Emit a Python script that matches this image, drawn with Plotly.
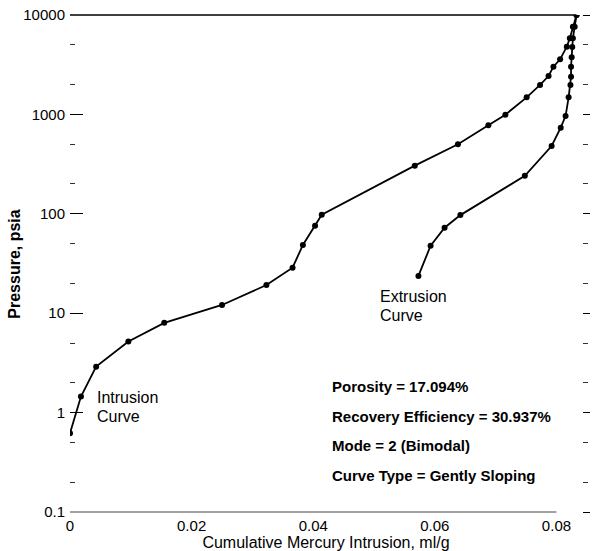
import plotly.graph_objects as go

# Mercury injection capillary pressure data
intrusion_volume = [0.0, 0.0018, 0.0043, 0.0096, 0.0155, 0.0250, 0.0323, 0.0366, 0.0383,
                    0.0403, 0.0414, 0.0567, 0.0638, 0.0688, 0.0716, 0.0751, 0.0773, 0.0787,
                    0.0795, 0.0806, 0.0817, 0.0822, 0.0827, 0.0833]
intrusion_pressure = [0.62, 1.45, 2.9, 5.2, 8.0, 12.1, 19.2, 28.7, 48.6,
                      76, 98, 305, 500, 776, 994, 1485, 1977, 2433,
                      3020, 3580, 4800, 5830, 7620, 10000]

extrusion_volume = [0.0573, 0.0593, 0.0616, 0.0642, 0.0748, 0.0792, 0.0807, 0.0815, 0.0820,
                    0.0823, 0.0824, 0.0824, 0.0825, 0.0826, 0.0827, 0.0830, 0.0833]
extrusion_pressure = [23.7, 47.8, 72.5, 97, 241, 481, 735, 963, 1485,
                      1977, 2395, 3020, 3750, 4770, 5830, 7620, 10000]

x_ticks = [0, 0.02, 0.04, 0.06, 0.08]
x_tick_labels = ["0", "0.02", "0.04", "0.06", "0.08"]
y_ticks = [0.1, 1, 10, 100, 1000, 10000]
y_tick_labels = ["0.1", "1", "10", "100", "1000", "10000"]

stats_lines = ["Porosity = 17.094%", "Recovery Efficiency = 30.937%",
               "Mode = 2 (Bimodal)", "Curve Type = Gently Sloping"]

FONT = "Liberation Sans, Arial, Helvetica, sans-serif"
X_MAX = 0.0842

fig = go.Figure()

curve_style = dict(mode="lines+markers",
                   line=dict(color="black", width=1.8),
                   marker=dict(color="black", size=6),
                   showlegend=False, hoverinfo="x+y")

fig.add_trace(go.Scatter(x=intrusion_volume, y=intrusion_pressure, name="Intrusion", **curve_style))
fig.add_trace(go.Scatter(x=extrusion_volume, y=extrusion_pressure, name="Extrusion", **curve_style))
# invisible trace so the right-hand tick axis is drawn
fig.add_trace(go.Scatter(x=[0], y=[1], yaxis="y2", mode="markers",
                         marker=dict(opacity=0), showlegend=False, hoverinfo="skip"))

fig.update_layout(
    width=602, height=551,
    margin=dict(l=70, r=20, t=15, b=39),
    paper_bgcolor="white", plot_bgcolor="white",
    font=dict(family=FONT, color="black"),
    xaxis=dict(
        range=[0, X_MAX], showgrid=False, zeroline=False, showline=False,
        automargin=False,
        tickvals=x_ticks, ticktext=x_tick_labels, ticks="",
        tickfont=dict(size=15), ticklabelstandoff=3,
        title=dict(text="Cumulative Mercury Intrusion, ml/g",
                   font=dict(size=16), standoff=3),
    ),
    yaxis=dict(
        type="log", range=[-1, 4], showgrid=False, zeroline=False, showline=False,
        automargin=False,
        tickvals=y_ticks, ticktext=y_tick_labels,
        ticks="inside", ticklen=13, tickwidth=1.2, tickcolor="black",
        tickfont=dict(size=15), ticklabelstandoff=4,
        minor=dict(ticks="inside", ticklen=5, tickwidth=1, tickcolor="#333",
                   showgrid=False),
    ),
    yaxis2=dict(
        type="log", range=[-1, 4], overlaying="y", side="right",
        automargin=False,
        showgrid=False, zeroline=False, showline=False, showticklabels=False,
        tickvals=y_ticks, ticks="outside", ticklen=7, tickwidth=1.2, tickcolor="black",
        minor=dict(ticks="outside", ticklen=5, tickwidth=1, tickcolor="#333",
                   showgrid=False),
    ),
)

# y-axis title, placed just left of the tick labels
fig.add_annotation(text="<b>Pressure, psia</b>", xref="paper", yref="paper",
                   x=-0.109, y=0.5, xanchor="center", yanchor="middle", textangle=-90,
                   showarrow=False, font=dict(size=16, family=FONT, color="black"))

# top frame line at 10000 psia and bottom baseline at 0.1 psia
fig.add_shape(type="line", xref="x", yref="paper", x0=0, x1=0.0833, y0=1, y1=1,
              line=dict(color="black", width=1.5))
fig.add_shape(type="line", xref="x", yref="paper", x0=0, x1=0.08, y0=0, y1=0,
              line=dict(color="#444", width=1))

# curve labels
label_font = dict(size=16, family=FONT, color="black")
for text, x, y in [("Intrusion", 0.0488, 0.230), ("Curve", 0.0488, 0.193),
                   ("Extrusion", 0.6016, 0.4326), ("Curve", 0.6016, 0.3944)]:
    fig.add_annotation(text=text, xref="paper", yref="paper", x=x, y=y,
                       xanchor="left", yanchor="middle", showarrow=False, font=label_font)

# sample statistics
stats_y = [0.2535, 0.193, 0.1328, 0.0744]
for text, y in zip(stats_lines, stats_y):
    fig.add_annotation(text="<b>" + text + "</b>", xref="paper", yref="paper",
                       x=0.5078, y=y, xanchor="left", yanchor="middle",
                       showarrow=False, font=dict(size=15, family=FONT, color="black"))

fig.write_html("out.html")
